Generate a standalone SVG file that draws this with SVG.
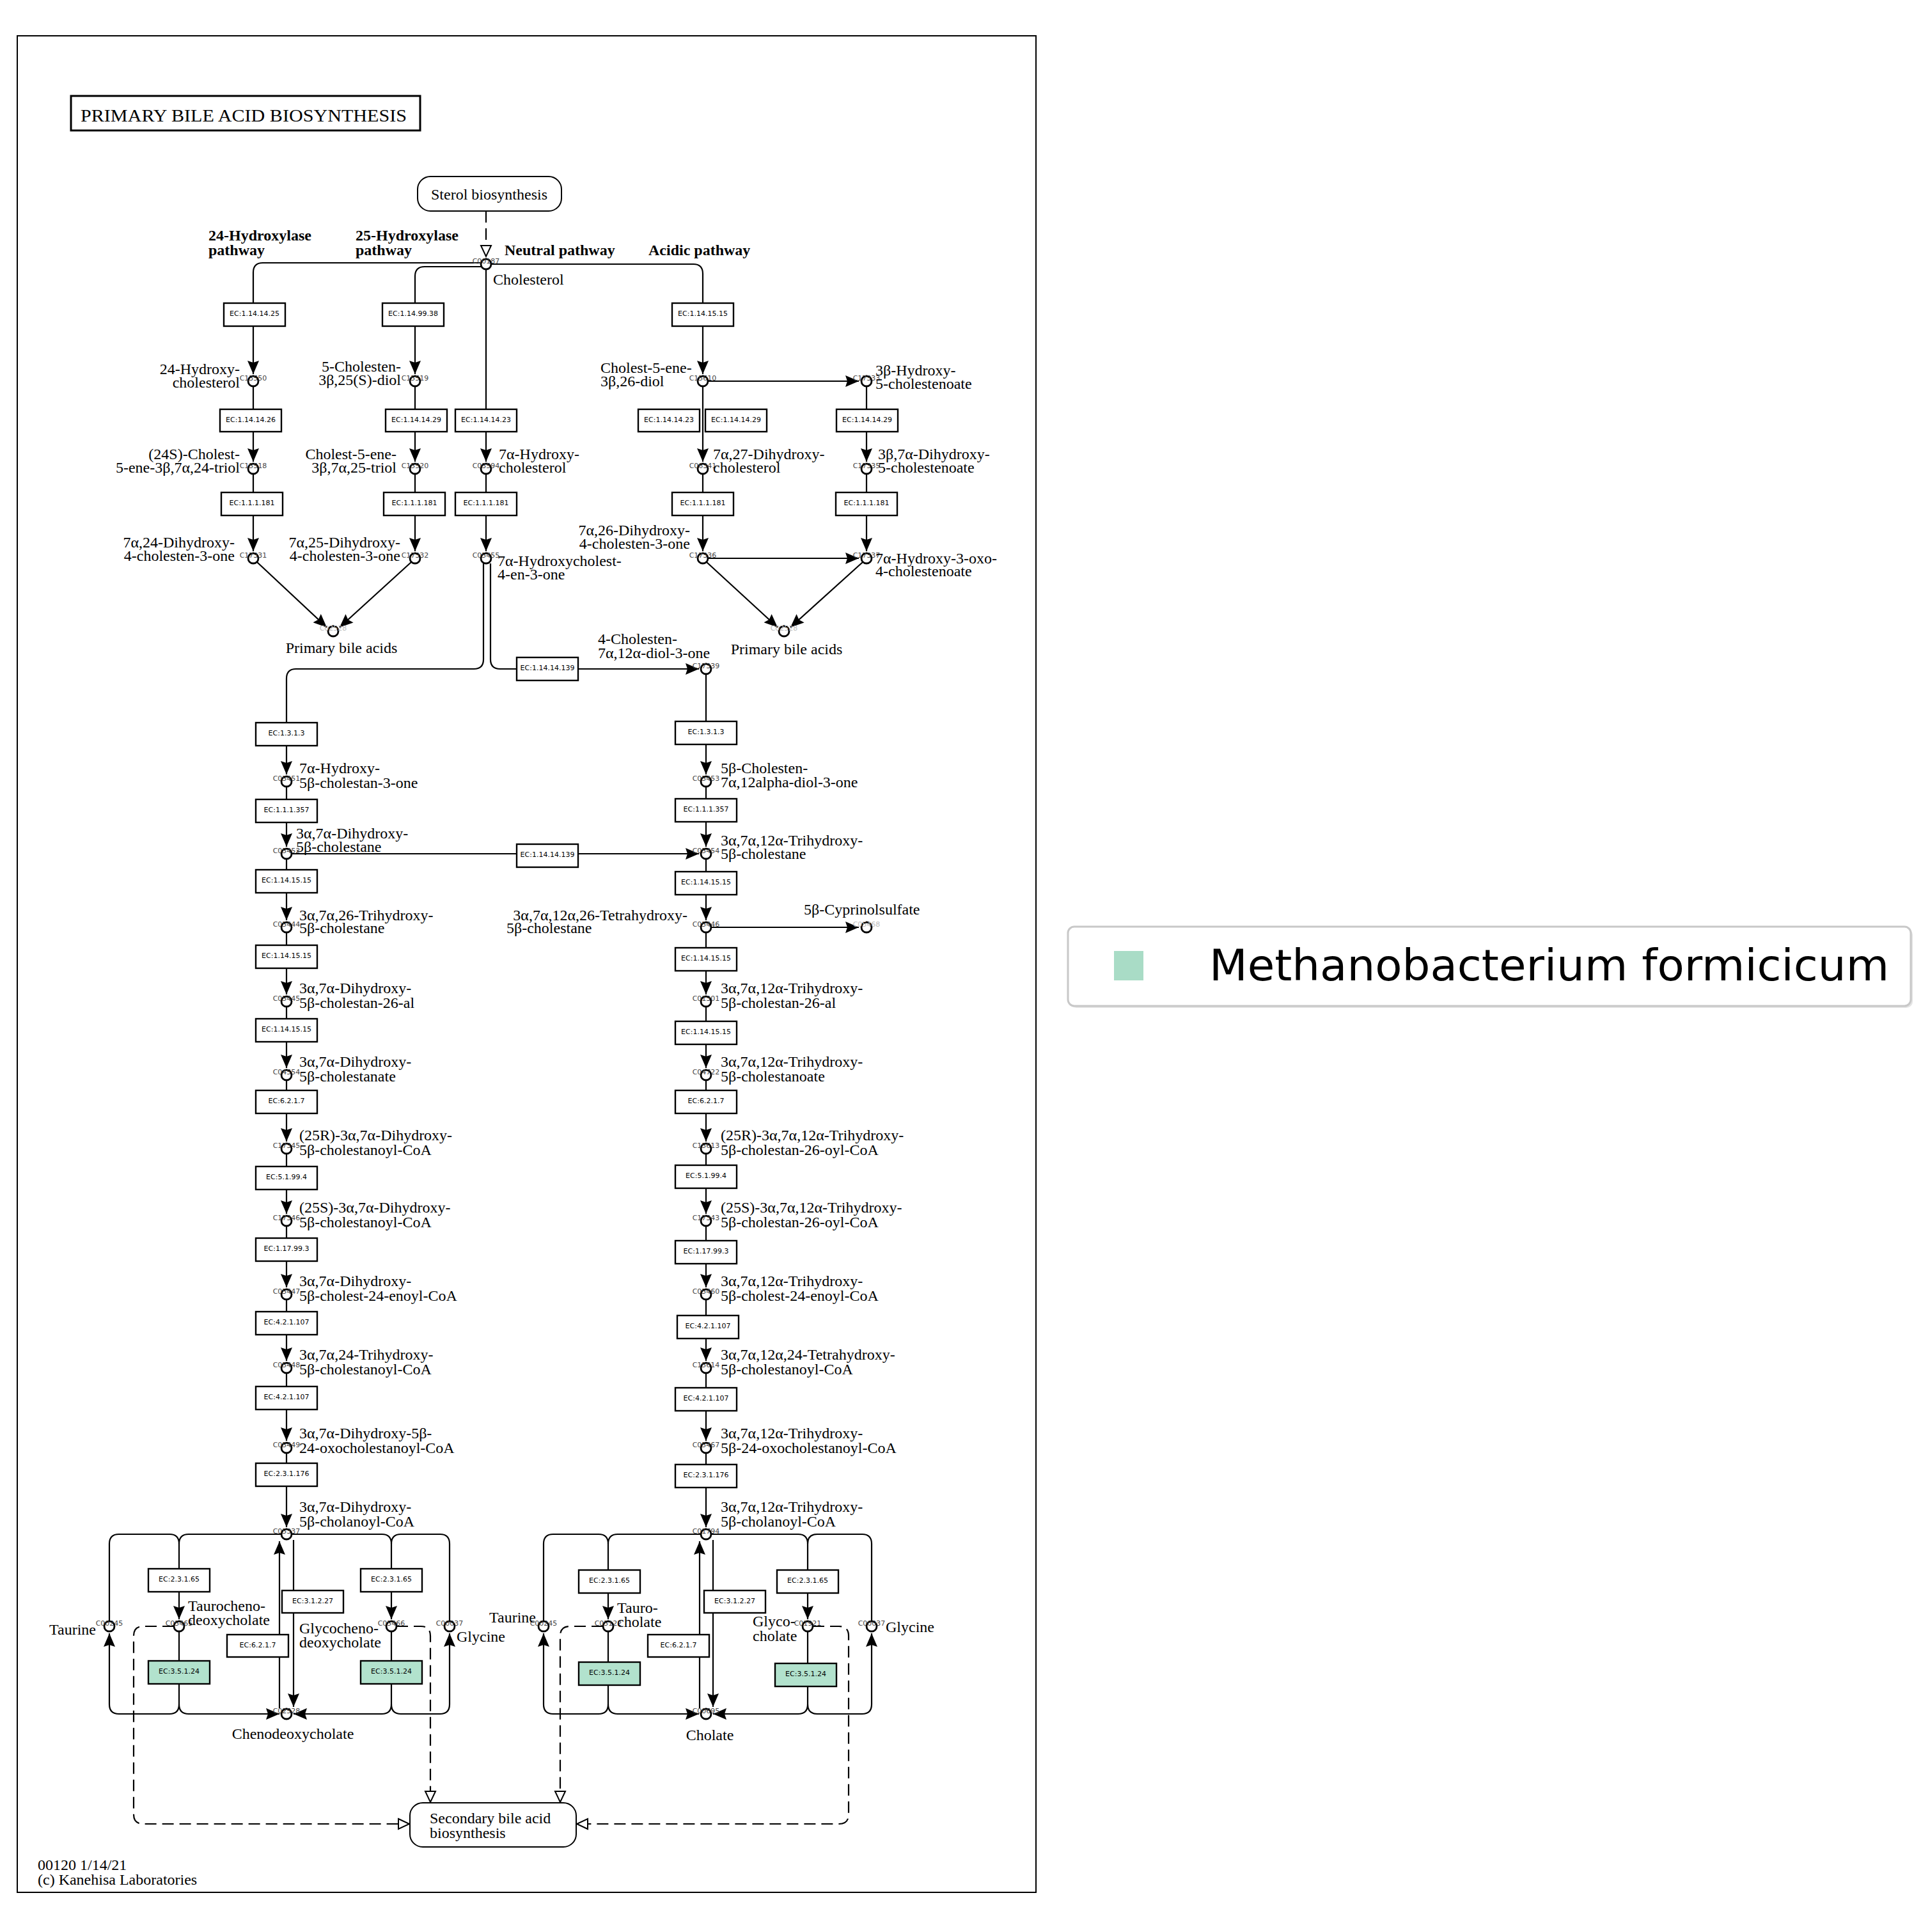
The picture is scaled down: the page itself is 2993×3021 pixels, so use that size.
<svg xmlns="http://www.w3.org/2000/svg" width="2993" height="3021" viewBox="0 0 2993 3021">
<defs>
<marker id="a" markerUnits="userSpaceOnUse" markerWidth="22" markerHeight="18" viewBox="0 0 22 18" refX="21" refY="9" orient="auto"><path d="M0,0 L21,9 L0,18 L3,9 z" fill="#000"/></marker>
<marker id="h" markerUnits="userSpaceOnUse" markerWidth="22" markerHeight="20" viewBox="-2 -2 22 20" refX="17" refY="8" orient="auto"><path d="M0,0 L17,8 L0,16 z" fill="#fff" stroke="#000" stroke-width="2"/></marker>
</defs>
<style>
.ec rect{fill:#fff;stroke:#000;stroke-width:2.4}
.ec.hl rect{fill:#b2e2cd}
.ec text{font-family:"DejaVu Sans",sans-serif;font-size:11px;text-anchor:middle;fill:#000}
.cpd circle{fill:#fff;stroke:#000;stroke-width:2.8}
.cid{font-family:"DejaVu Sans",sans-serif;font-size:11px;fill:#444;text-anchor:middle}
.faint{fill:#bbb}
.lbl{font-family:"Liberation Serif","Times New Roman",serif;font-size:24px;fill:#000}
.e{text-anchor:end}
.m{text-anchor:middle}
.bold{font-family:"Liberation Serif","Times New Roman",serif;font-size:24px;font-weight:bold}
.ln{fill:none;stroke:#000;stroke-width:2.2}
.ar{marker-end:url(#a)}
.dash{stroke-dasharray:18,9}
.hr{marker-end:url(#h)}
.map rect{fill:#fff;stroke:#000;stroke-width:2}
</style>
<rect x="0" y="0" width="2993" height="3021" fill="#fff"/>
<rect x="27" y="56" width="1593" height="2903" fill="none" stroke="#000" stroke-width="2"/>

<g id="title">
<rect x="111" y="150" width="546" height="54" fill="#fff" stroke="#000" stroke-width="3"/>
<text x="126" y="190" font-family="Liberation Serif, serif" font-size="28" textLength="510" lengthAdjust="spacingAndGlyphs">PRIMARY BILE ACID BIOSYNTHESIS</text>
</g>

<g id="pathway-labels" class="bold">
<text x="326" y="376">24-Hydroxylase</text><text x="326" y="399">pathway</text>
<text x="556" y="376">25-Hydroxylase</text><text x="556" y="399">pathway</text>
<text x="789" y="399">Neutral pathway</text>
<text x="1014" y="399">Acidic pathway</text>
</g>

<g id="connectors">
<path class="ln dash hr" d="M760,330 V401"/>
<path class="ln ar" d="M752,411 H411 Q396,411 396,426 V585"/>
<path class="ln ar" d="M396,604 V722"/>
<path class="ln ar" d="M396,741 V862"/>
<path class="ln ar" d="M752,417 H664 Q649,417 649,432 V585"/>
<path class="ln ar" d="M649,604 V722"/>
<path class="ln ar" d="M649,741 V862"/>
<path class="ln ar" d="M760,421 V722"/>
<path class="ln ar" d="M760,741 V862"/>
<path class="ln ar" d="M768,413 H1084 Q1099,413 1099,428 V585"/>
<path class="ln ar" d="M1099,604 V722"/>
<path class="ln ar" d="M1107,596 H1343"/>
<path class="ln ar" d="M1355,604 V722"/>
<path class="ln ar" d="M1099,741 V862"/>
<path class="ln ar" d="M1355,741 V862"/>
<path class="ln ar" d="M1107,873 H1343"/>
<path class="ln ar" d="M402,879 L511,981"/>
<path class="ln ar" d="M643,879 L531,981"/>
<path class="ln ar" d="M1105,879 L1216,981"/>
<path class="ln ar" d="M1349,879 L1236,981"/>
<path class="ln ar" d="M756,881 V1031 Q756,1046 741,1046 H463 Q448,1046 448,1061 V1211"/>
<path class="ln ar" d="M767,881 V1031 Q767,1046 782,1046 H1093"/>
<path class="ln ar" d="M1104,1054 V1211"/>
<path class="ln ar" d="M448,1230 V1324"/>
<path class="ln ar" d="M456,1335 H1093"/>
<path class="ln ar" d="M448,1343 V1439"/>
<path class="ln ar" d="M448,1458 V1555"/>
<path class="ln ar" d="M448,1574 V1670"/>
<path class="ln ar" d="M448,1689 V1785"/>
<path class="ln ar" d="M448,1804 V1898"/>
<path class="ln ar" d="M448,1917 V2013"/>
<path class="ln ar" d="M448,2032 V2128"/>
<path class="ln ar" d="M448,2147 V2253"/>
<path class="ln ar" d="M448,2272 V2388"/>
<path class="ln ar" d="M1104,1230 V1324"/>
<path class="ln ar" d="M1104,1343 V1439"/>
<path class="ln ar" d="M1112,1450 H1343"/>
<path class="ln ar" d="M1104,1458 V1555"/>
<path class="ln ar" d="M1104,1574 V1670"/>
<path class="ln ar" d="M1104,1689 V1785"/>
<path class="ln ar" d="M1104,1804 V1898"/>
<path class="ln ar" d="M1104,1917 V2013"/>
<path class="ln ar" d="M1104,2032 V2128"/>
<path class="ln ar" d="M1104,2147 V2253"/>
<path class="ln ar" d="M1104,2272 V2388"/>

<path class="ln ar" d="M440,2399 H295 Q280,2399 280,2414 V2532"/>
<path class="ln" d="M171,2535 V2414 Q171,2399 186,2399 H265 Q280,2399 280,2414"/>
<path class="ln ar" d="M456,2399 H597 Q612,2399 612,2414 V2532"/>
<path class="ln" d="M703,2535 V2414 Q703,2399 688,2399 H627 Q612,2399 612,2414"/>
<path class="ln ar" d="M280,2551 V2665 Q280,2680 295,2680 H437"/>
<path class="ln ar" d="M280,2665 Q280,2680 265,2680 H186 Q171,2680 171,2665 V2554"/>
<path class="ln ar" d="M612,2551 V2665 Q612,2680 597,2680 H459"/>
<path class="ln ar" d="M612,2665 Q612,2680 627,2680 H688 Q703,2680 703,2665 V2554"/>
<path class="ln ar" d="M459,2408 V2669"/>
<path class="ln ar" d="M437,2671 V2410"/>
<path class="ln dash hr" d="M272,2543 H224 Q209,2543 209,2558 V2837 Q209,2852 224,2852 H640"/>
<path class="ln dash hr" d="M620,2543 H658 Q673,2543 673,2558 V2818"/>

<path class="ln ar" d="M1096,2399 H966 Q951,2399 951,2414 V2532"/>
<path class="ln" d="M850,2535 V2414 Q850,2399 865,2399 H936 Q951,2399 951,2414"/>
<path class="ln ar" d="M1112,2399 H1248 Q1263,2399 1263,2414 V2532"/>
<path class="ln" d="M1363,2535 V2414 Q1363,2399 1348,2399 H1278 Q1263,2399 1263,2414"/>
<path class="ln ar" d="M951,2551 V2665 Q951,2680 966,2680 H1093"/>
<path class="ln ar" d="M951,2665 Q951,2680 936,2680 H865 Q850,2680 850,2665 V2554"/>
<path class="ln ar" d="M1263,2551 V2665 Q1263,2680 1248,2680 H1115"/>
<path class="ln ar" d="M1263,2665 Q1263,2680 1278,2680 H1348 Q1363,2680 1363,2665 V2554"/>
<path class="ln ar" d="M1115,2408 V2669"/>
<path class="ln ar" d="M1094,2671 V2410"/>
<path class="ln dash hr" d="M943,2543 H891 Q876,2543 876,2558 V2818"/>
<path class="ln dash hr" d="M1271,2543 H1312 Q1327,2543 1327,2558 V2837 Q1327,2852 1312,2852 H902"/>
</g>

<g id="map-sterol" class="map"><rect x="653" y="276" width="225" height="54" rx="20"/><text class="lbl m" x="765" y="312">Sterol biosynthesis</text></g>
<g id="map-secondary" class="map"><rect x="641" y="2819" width="260" height="69" rx="20"/><text class="lbl" x="672" y="2851">Secondary bile acid</text><text class="lbl" x="672" y="2874">biosynthesis</text></g>

<g id="ec1" class="ec"><rect x="350" y="474" width="96" height="36"/><text x="398" y="494">EC:1.14.14.25</text></g>
<g id="ec2" class="ec"><rect x="598" y="474" width="96" height="36"/><text x="646" y="494">EC:1.14.99.38</text></g>
<g id="ec3" class="ec"><rect x="1051" y="474" width="96" height="36"/><text x="1099" y="494">EC:1.14.15.15</text></g>
<g id="ec4" class="ec"><rect x="344" y="640" width="96" height="35"/><text x="392" y="660">EC:1.14.14.26</text></g>
<g id="ec5" class="ec"><rect x="603" y="640" width="96" height="35"/><text x="651" y="660">EC:1.14.14.29</text></g>
<g id="ec6" class="ec"><rect x="712" y="640" width="96" height="35"/><text x="760" y="660">EC:1.14.14.23</text></g>
<g id="ec7" class="ec"><rect x="998" y="640" width="96" height="35"/><text x="1046" y="660">EC:1.14.14.23</text></g>
<g id="ec8" class="ec"><rect x="1103" y="640" width="96" height="35"/><text x="1151" y="660">EC:1.14.14.29</text></g>
<g id="ec9" class="ec"><rect x="1308" y="640" width="96" height="35"/><text x="1356" y="660">EC:1.14.14.29</text></g>
<g id="ec10" class="ec"><rect x="346" y="770" width="96" height="36"/><text x="394" y="790">EC:1.1.1.181</text></g>
<g id="ec11" class="ec"><rect x="600" y="770" width="96" height="36"/><text x="648" y="790">EC:1.1.1.181</text></g>
<g id="ec12" class="ec"><rect x="712" y="770" width="96" height="36"/><text x="760" y="790">EC:1.1.1.181</text></g>
<g id="ec13" class="ec"><rect x="1051" y="770" width="96" height="36"/><text x="1099" y="790">EC:1.1.1.181</text></g>
<g id="ec14" class="ec"><rect x="1307" y="770" width="96" height="36"/><text x="1355" y="790">EC:1.1.1.181</text></g>
<g id="ec15" class="ec"><rect x="808" y="1028" width="96" height="36"/><text x="856" y="1048">EC:1.14.14.139</text></g>
<g id="ec16" class="ec"><rect x="808" y="1320" width="96" height="36"/><text x="856" y="1340">EC:1.14.14.139</text></g>

<g id="ec17" class="ec"><rect x="400" y="1130" width="96" height="36"/><text x="448" y="1150">EC:1.3.1.3</text></g>
<g id="ec18" class="ec"><rect x="400" y="1250" width="96" height="36"/><text x="448" y="1270">EC:1.1.1.357</text></g>
<g id="ec19" class="ec"><rect x="400" y="1360" width="96" height="36"/><text x="448" y="1380">EC:1.14.15.15</text></g>
<g id="ec20" class="ec"><rect x="400" y="1478" width="96" height="36"/><text x="448" y="1498">EC:1.14.15.15</text></g>
<g id="ec21" class="ec"><rect x="400" y="1593" width="96" height="36"/><text x="448" y="1613">EC:1.14.15.15</text></g>
<g id="ec22" class="ec"><rect x="400" y="1705" width="96" height="36"/><text x="448" y="1725">EC:6.2.1.7</text></g>
<g id="ec23" class="ec"><rect x="400" y="1824" width="96" height="36"/><text x="448" y="1844">EC:5.1.99.4</text></g>
<g id="ec24" class="ec"><rect x="400" y="1936" width="96" height="36"/><text x="448" y="1956">EC:1.17.99.3</text></g>
<g id="ec25" class="ec"><rect x="400" y="2051" width="96" height="36"/><text x="448" y="2071">EC:4.2.1.107</text></g>
<g id="ec26" class="ec"><rect x="400" y="2168" width="96" height="36"/><text x="448" y="2188">EC:4.2.1.107</text></g>
<g id="ec27" class="ec"><rect x="400" y="2288" width="96" height="36"/><text x="448" y="2308">EC:2.3.1.176</text></g>

<g id="ec28" class="ec"><rect x="1056" y="1128" width="96" height="36"/><text x="1104" y="1148">EC:1.3.1.3</text></g>
<g id="ec29" class="ec"><rect x="1056" y="1249" width="96" height="36"/><text x="1104" y="1269">EC:1.1.1.357</text></g>
<g id="ec30" class="ec"><rect x="1056" y="1363" width="96" height="36"/><text x="1104" y="1383">EC:1.14.15.15</text></g>
<g id="ec31" class="ec"><rect x="1056" y="1482" width="96" height="36"/><text x="1104" y="1502">EC:1.14.15.15</text></g>
<g id="ec32" class="ec"><rect x="1056" y="1597" width="96" height="36"/><text x="1104" y="1617">EC:1.14.15.15</text></g>
<g id="ec33" class="ec"><rect x="1056" y="1705" width="96" height="36"/><text x="1104" y="1725">EC:6.2.1.7</text></g>
<g id="ec34" class="ec"><rect x="1056" y="1822" width="96" height="36"/><text x="1104" y="1842">EC:5.1.99.4</text></g>
<g id="ec35" class="ec"><rect x="1056" y="1940" width="96" height="36"/><text x="1104" y="1960">EC:1.17.99.3</text></g>
<g id="ec36" class="ec"><rect x="1059" y="2057" width="96" height="36"/><text x="1107" y="2077">EC:4.2.1.107</text></g>
<g id="ec37" class="ec"><rect x="1056" y="2170" width="96" height="36"/><text x="1104" y="2190">EC:4.2.1.107</text></g>
<g id="ec38" class="ec"><rect x="1056" y="2290" width="96" height="36"/><text x="1104" y="2310">EC:2.3.1.176</text></g>

<g id="ec39" class="ec"><rect x="232" y="2453" width="96" height="36"/><text x="280" y="2473">EC:2.3.1.65</text></g>
<g id="ec40" class="ec"><rect x="564" y="2453" width="96" height="36"/><text x="612" y="2473">EC:2.3.1.65</text></g>
<g id="ec41" class="ec"><rect x="441" y="2487" width="96" height="35"/><text x="489" y="2507">EC:3.1.2.27</text></g>
<g id="ec42" class="ec"><rect x="355" y="2556" width="96" height="35"/><text x="403" y="2576">EC:6.2.1.7</text></g>
<g id="ec43" class="ec hl"><rect x="232" y="2597" width="96" height="36"/><text x="280" y="2617">EC:3.5.1.24</text></g>
<g id="ec44" class="ec hl"><rect x="564" y="2597" width="96" height="36"/><text x="612" y="2617">EC:3.5.1.24</text></g>
<g id="ec45" class="ec"><rect x="905" y="2455" width="96" height="36"/><text x="953" y="2475">EC:2.3.1.65</text></g>
<g id="ec46" class="ec"><rect x="1215" y="2455" width="96" height="36"/><text x="1263" y="2475">EC:2.3.1.65</text></g>
<g id="ec47" class="ec"><rect x="1101" y="2487" width="96" height="35"/><text x="1149" y="2507">EC:3.1.2.27</text></g>
<g id="ec48" class="ec"><rect x="1013" y="2556" width="96" height="35"/><text x="1061" y="2576">EC:6.2.1.7</text></g>
<g id="ec49" class="ec hl"><rect x="905" y="2599" width="96" height="36"/><text x="953" y="2619">EC:3.5.1.24</text></g>
<g id="ec50" class="ec hl"><rect x="1212" y="2601" width="96" height="36"/><text x="1260" y="2621">EC:3.5.1.24</text></g>

<g id="C00187" class="cpd"><circle cx="760" cy="413" r="8"/><text class="cid" x="760" y="412">C00187</text><text class="lbl" x="771" y="445">Cholesterol</text></g>
<g id="C13550" class="cpd"><circle cx="396" cy="596" r="8"/><text class="cid" x="396" y="595">C13550</text><text class="lbl e" x="375" y="585">24-Hydroxy-</text><text class="lbl e" x="375" y="606">cholesterol</text></g>
<g id="C15519" class="cpd"><circle cx="649" cy="596" r="8"/><text class="cid" x="649" y="595">C15519</text><text class="lbl e" x="627" y="581">5-Cholesten-</text><text class="lbl e" x="627" y="602">3β,25(S)-diol</text></g>
<g id="C15610" class="cpd"><circle cx="1099" cy="596" r="8"/><text class="cid" x="1099" y="595">C15610</text><text class="lbl" x="939" y="583">Cholest-5-ene-</text><text class="lbl" x="939" y="604">3β,26-diol</text></g>
<g id="C17333" class="cpd"><circle cx="1355" cy="596" r="8"/><text class="cid" x="1355" y="595">C17333</text><text class="lbl" x="1369" y="587">3β-Hydroxy-</text><text class="lbl" x="1369" y="608">5-cholestenoate</text></g>
<g id="C15518" class="cpd"><circle cx="396" cy="733" r="8"/><text class="cid" x="396" y="732">C15518</text><text class="lbl e" x="375" y="718">(24S)-Cholest-</text><text class="lbl e" x="375" y="739">5-ene-3β,7α,24-triol</text></g>
<g id="C15520" class="cpd"><circle cx="649" cy="733" r="8"/><text class="cid" x="649" y="732">C15520</text><text class="lbl e" x="620" y="718">Cholest-5-ene-</text><text class="lbl e" x="620" y="739">3β,7α,25-triol</text></g>
<g id="C03594" class="cpd"><circle cx="760" cy="733" r="8"/><text class="cid" x="760" y="732">C03594</text><text class="lbl" x="780" y="718">7α-Hydroxy-</text><text class="lbl" x="780" y="739">cholesterol</text></g>
<g id="C06341" class="cpd"><circle cx="1099" cy="733" r="8"/><text class="cid" x="1099" y="732">C06341</text><text class="lbl" x="1115" y="718">7α,27-Dihydroxy-</text><text class="lbl" x="1115" y="739">cholesterol</text></g>
<g id="C17335" class="cpd"><circle cx="1355" cy="733" r="8"/><text class="cid" x="1355" y="732">C17335</text><text class="lbl" x="1373" y="718">3β,7α-Dihydroxy-</text><text class="lbl" x="1373" y="739">5-cholestenoate</text></g>
<g id="C17331" class="cpd"><circle cx="396" cy="873" r="8"/><text class="cid" x="396" y="872">C17331</text><text class="lbl e" x="367" y="856">7α,24-Dihydroxy-</text><text class="lbl e" x="367" y="877">4-cholesten-3-one</text></g>
<g id="C17332" class="cpd"><circle cx="649" cy="873" r="8"/><text class="cid" x="649" y="872">C17332</text><text class="lbl e" x="626" y="856">7α,25-Dihydroxy-</text><text class="lbl e" x="626" y="877">4-cholesten-3-one</text></g>
<g id="C05455" class="cpd"><circle cx="760" cy="873" r="8"/><text class="cid" x="760" y="872">C05455</text><text class="lbl" x="778" y="885">7α-Hydroxycholest-</text><text class="lbl" x="778" y="906">4-en-3-one</text></g>
<g id="C17336" class="cpd"><circle cx="1099" cy="873" r="8"/><text class="cid" x="1099" y="872">C17336</text><text class="lbl e" x="1079" y="837">7α,26-Dihydroxy-</text><text class="lbl e" x="1079" y="858">4-cholesten-3-one</text></g>
<g id="C17337" class="cpd"><circle cx="1355" cy="873" r="8"/><text class="cid" x="1355" y="872">C17337</text><text class="lbl" x="1369" y="881">7α-Hydroxy-3-oxo-</text><text class="lbl" x="1369" y="901">4-cholestenoate</text></g>
<g id="primary-bile-acids-1" class="cpd"><circle cx="521" cy="987" r="8"/><text class="cid faint" x="521" y="986">C02528</text><text class="lbl m" x="534" y="1021">Primary bile acids</text></g>
<g id="primary-bile-acids-2" class="cpd"><circle cx="1226" cy="987" r="8"/><text class="cid faint" x="1226" y="986">C02528</text><text class="lbl m" x="1230" y="1023">Primary bile acids</text></g>
<g id="C17339" class="cpd"><circle cx="1104" cy="1046" r="8"/><text class="cid" x="1104" y="1045">C17339</text><text class="lbl" x="935" y="1007">4-Cholesten-</text><text class="lbl" x="935" y="1029">7α,12α-diol-3-one</text></g>

<g id="C05451" class="cpd"><circle cx="448" cy="1222" r="8"/><text class="cid" x="448" y="1221">C05451</text><text class="lbl" x="468" y="1209">7α-Hydroxy-</text><text class="lbl" x="468" y="1232">5β-cholestan-3-one</text></g>
<g id="C05452" class="cpd"><circle cx="448" cy="1335" r="8"/><text class="cid" x="448" y="1334">C05452</text><text class="lbl" x="463" y="1311">3α,7α-Dihydroxy-</text><text class="lbl" x="463" y="1332">5β-cholestane</text></g>
<g id="C05444" class="cpd"><circle cx="448" cy="1450" r="8"/><text class="cid" x="448" y="1449">C05444</text><text class="lbl" x="468" y="1439">3α,7α,26-Trihydroxy-</text><text class="lbl" x="468" y="1459">5β-cholestane</text></g>
<g id="C05445" class="cpd"><circle cx="448" cy="1566" r="8"/><text class="cid" x="448" y="1565">C05445</text><text class="lbl" x="468" y="1553">3α,7α-Dihydroxy-</text><text class="lbl" x="468" y="1576">5β-cholestan-26-al</text></g>
<g id="C04554" class="cpd"><circle cx="448" cy="1681" r="8"/><text class="cid" x="448" y="1680">C04554</text><text class="lbl" x="468" y="1668">3α,7α-Dihydroxy-</text><text class="lbl" x="468" y="1691">5β-cholestanate</text></g>
<g id="C17345" class="cpd"><circle cx="448" cy="1796" r="8"/><text class="cid" x="448" y="1795">C17345</text><text class="lbl" x="468" y="1783">(25R)-3α,7α-Dihydroxy-</text><text class="lbl" x="468" y="1806">5β-cholestanoyl-CoA</text></g>
<g id="C17346" class="cpd"><circle cx="448" cy="1909" r="8"/><text class="cid" x="448" y="1908">C17346</text><text class="lbl" x="468" y="1896">(25S)-3α,7α-Dihydroxy-</text><text class="lbl" x="468" y="1919">5β-cholestanoyl-CoA</text></g>
<g id="C05447" class="cpd"><circle cx="448" cy="2024" r="8"/><text class="cid" x="448" y="2023">C05447</text><text class="lbl" x="468" y="2011">3α,7α-Dihydroxy-</text><text class="lbl" x="468" y="2034">5β-cholest-24-enoyl-CoA</text></g>
<g id="C05448" class="cpd"><circle cx="448" cy="2139" r="8"/><text class="cid" x="448" y="2138">C05448</text><text class="lbl" x="468" y="2126">3α,7α,24-Trihydroxy-</text><text class="lbl" x="468" y="2149">5β-cholestanoyl-CoA</text></g>
<g id="C05449" class="cpd"><circle cx="448" cy="2264" r="8"/><text class="cid" x="448" y="2263">C05449</text><text class="lbl" x="468" y="2249">3α,7α-Dihydroxy-5β-</text><text class="lbl" x="468" y="2272">24-oxocholestanoyl-CoA</text></g>
<g id="C05337" class="cpd"><circle cx="448" cy="2399" r="8"/><text class="cid" x="448" y="2398">C05337</text><text class="lbl" x="468" y="2364">3α,7α-Dihydroxy-</text><text class="lbl" x="468" y="2387">5β-cholanoyl-CoA</text></g>

<g id="C05453" class="cpd"><circle cx="1104" cy="1222" r="8"/><text class="cid" x="1104" y="1221">C05453</text><text class="lbl" x="1127" y="1209">5β-Cholesten-</text><text class="lbl" x="1127" y="1231">7α,12alpha-diol-3-one</text></g>
<g id="C05454" class="cpd"><circle cx="1104" cy="1335" r="8"/><text class="cid" x="1104" y="1334">C05454</text><text class="lbl" x="1127" y="1322">3α,7α,12α-Trihydroxy-</text><text class="lbl" x="1127" y="1343">5β-cholestane</text></g>
<g id="C05446" class="cpd"><circle cx="1104" cy="1450" r="8"/><text class="cid" x="1104" y="1449">C05446</text><text class="lbl e" x="1075" y="1439">3α,7α,12α,26-Tetrahydroxy-</text><text class="lbl" x="792" y="1459">5β-cholestane</text></g>
<g id="C05468" class="cpd"><circle cx="1355" cy="1450" r="8"/><text class="cid faint" x="1355" y="1449">C05468</text><text class="lbl" x="1257" y="1430">5β-Cyprinolsulfate</text></g>
<g id="C01301" class="cpd"><circle cx="1104" cy="1566" r="8"/><text class="cid" x="1104" y="1565">C01301</text><text class="lbl" x="1127" y="1553">3α,7α,12α-Trihydroxy-</text><text class="lbl" x="1127" y="1576">5β-cholestan-26-al</text></g>
<g id="C04722" class="cpd"><circle cx="1104" cy="1681" r="8"/><text class="cid" x="1104" y="1680">C04722</text><text class="lbl" x="1127" y="1668">3α,7α,12α-Trihydroxy-</text><text class="lbl" x="1127" y="1691">5β-cholestanoate</text></g>
<g id="C15613" class="cpd"><circle cx="1104" cy="1796" r="8"/><text class="cid" x="1104" y="1795">C15613</text><text class="lbl" x="1127" y="1783">(25R)-3α,7α,12α-Trihydroxy-</text><text class="lbl" x="1127" y="1806">5β-cholestan-26-oyl-CoA</text></g>
<g id="C17343" class="cpd"><circle cx="1104" cy="1909" r="8"/><text class="cid" x="1104" y="1908">C17343</text><text class="lbl" x="1127" y="1896">(25S)-3α,7α,12α-Trihydroxy-</text><text class="lbl" x="1127" y="1919">5β-cholestan-26-oyl-CoA</text></g>
<g id="C05460" class="cpd"><circle cx="1104" cy="2024" r="8"/><text class="cid" x="1104" y="2023">C05460</text><text class="lbl" x="1127" y="2011">3α,7α,12α-Trihydroxy-</text><text class="lbl" x="1127" y="2034">5β-cholest-24-enoyl-CoA</text></g>
<g id="C15614" class="cpd"><circle cx="1104" cy="2139" r="8"/><text class="cid" x="1104" y="2138">C15614</text><text class="lbl" x="1127" y="2126">3α,7α,12α,24-Tetrahydroxy-</text><text class="lbl" x="1127" y="2149">5β-cholestanoyl-CoA</text></g>
<g id="C05467" class="cpd"><circle cx="1104" cy="2264" r="8"/><text class="cid" x="1104" y="2263">C05467</text><text class="lbl" x="1127" y="2249">3α,7α,12α-Trihydroxy-</text><text class="lbl" x="1127" y="2272">5β-24-oxocholestanoyl-CoA</text></g>
<g id="C01794" class="cpd"><circle cx="1104" cy="2399" r="8"/><text class="cid" x="1104" y="2398">C01794</text><text class="lbl" x="1127" y="2364">3α,7α,12α-Trihydroxy-</text><text class="lbl" x="1127" y="2387">5β-cholanoyl-CoA</text></g>

<g id="C00245-a" class="cpd"><circle cx="171" cy="2543" r="8"/><text class="cid" x="171" y="2542">C00245</text><text class="lbl e" x="150" y="2556">Taurine</text></g>
<g id="C05465" class="cpd"><circle cx="280" cy="2543" r="8"/><text class="cid" x="280" y="2542">C05465</text><text class="lbl" x="294" y="2519">Taurocheno-</text><text class="lbl" x="294" y="2541">deoxycholate</text></g>
<g id="C05466" class="cpd"><circle cx="612" cy="2543" r="8"/><text class="cid" x="612" y="2542">C05466</text><text class="lbl" x="468" y="2554">Glycocheno-</text><text class="lbl" x="468" y="2576">deoxycholate</text></g>
<g id="C00037-a" class="cpd"><circle cx="703" cy="2543" r="8"/><text class="cid" x="703" y="2542">C00037</text><text class="lbl" x="714" y="2567">Glycine</text></g>
<g id="C02528" class="cpd"><circle cx="448" cy="2680" r="8"/><text class="cid" x="448" y="2679">C02528</text><text class="lbl m" x="458" y="2719">Chenodeoxycholate</text></g>
<g id="C00245-b" class="cpd"><circle cx="850" cy="2543" r="8"/><text class="cid" x="850" y="2542">C00245</text><text class="lbl" x="765" y="2537">Taurine</text></g>
<g id="C05122" class="cpd"><circle cx="951" cy="2543" r="8"/><text class="cid" x="951" y="2542">C05122</text><text class="lbl" x="965" y="2522">Tauro-</text><text class="lbl" x="965" y="2544">cholate</text></g>
<g id="C01921" class="cpd"><circle cx="1263" cy="2543" r="8"/><text class="cid" x="1263" y="2542">C01921</text><text class="lbl" x="1177" y="2543">Glyco-</text><text class="lbl" x="1177" y="2566">cholate</text></g>
<g id="C00037-b" class="cpd"><circle cx="1363" cy="2543" r="8"/><text class="cid" x="1363" y="2542">C00037</text><text class="lbl" x="1385" y="2552">Glycine</text></g>
<g id="C00695" class="cpd"><circle cx="1104" cy="2680" r="8"/><text class="cid" x="1104" y="2679">C00695</text><text class="lbl m" x="1110" y="2721">Cholate</text></g>

<g id="footer" class="lbl"><text x="59" y="2924">00120 1/14/21</text><text x="59" y="2947">(c) Kanehisa Laboratories</text></g>

<g id="legend">
<rect x="1673" y="1452" width="1318" height="124" rx="10" fill="#e4e4e4"/>
<rect x="1670" y="1449" width="1318" height="124" rx="10" fill="#fff" stroke="#c8c8c8" stroke-width="3"/>
<rect x="1742" y="1487" width="46" height="46" fill="#a9dcc6"/>
<text x="1891" y="1533" font-family="DejaVu Sans, sans-serif" font-size="68" textLength="1063" lengthAdjust="spacingAndGlyphs">Methanobacterium formicicum</text>
</g>
</svg>
